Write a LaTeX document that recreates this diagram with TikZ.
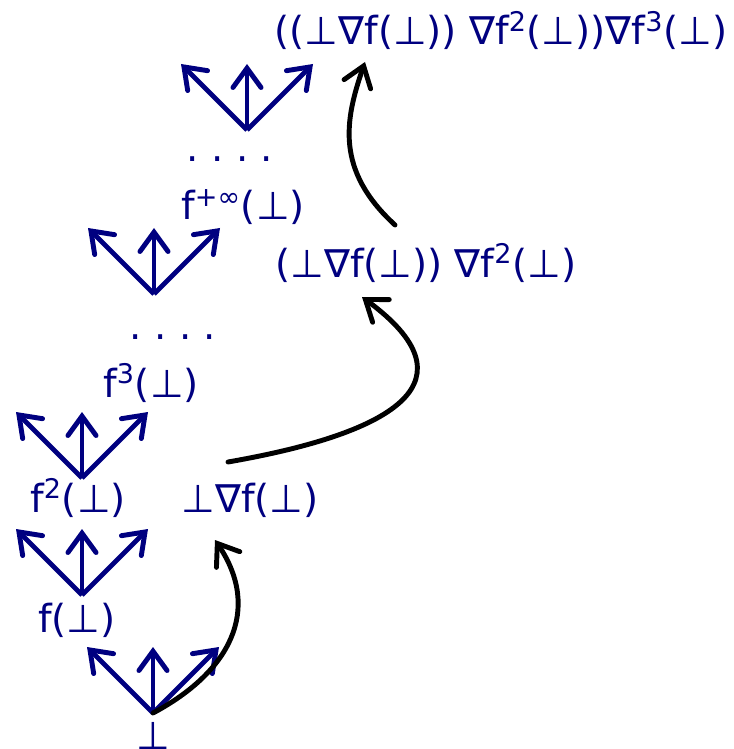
\documentclass[tikz,border=0pt]{standalone}
\usepackage{fontspec}
\setmainfont{DejaVu Sans}
\usetikzlibrary{arrows.meta}
\definecolor{navyink}{RGB}{0,0,128}
\newcommand{\fourdots}{.\hspace{7pt}.\hspace{7pt}.\hspace{7pt}.}

\begin{document}
\begin{tikzpicture}[x=0.02cm,y=-0.02cm,
    lbl/.style={text=navyink,font=\fontsize{22}{26}\selectfont,anchor=base,inner sep=0pt},
    fanarrow/.style={draw=navyink,line width=2.8pt,-{Straight Barb[length=11pt,width=16pt,line cap=round]}},
    iter/.style={draw=black,line width=2.8pt,line cap=round,-{Straight Barb[length=11pt,width=16pt,line cap=round]}}]
  \useasboundingbox (0,0) rectangle (733,749);

  % successors of each element
  \foreach \name/\x/\y in {b0/153/713, b1/82/595, b2/82/478, b3/154/294, b4/247/130} {
    \coordinate (\name) at (\x,\y);
    \draw[fanarrow] (\name) -- ++(-66,-66);
    \draw[fanarrow] (\name) -- ++(0,-66);
    \draw[fanarrow] (\name) -- ++(66,-66);
  }

  % the ascending chain
  \node[lbl] (bot) at (153,749) {⊥};
  \node[lbl] (f1) at (77,632) {f(⊥)};
  \node[lbl] (f2) at (78,512) {f\textsuperscript{2}(⊥)};
  \node[lbl] (f3) at (151,397) {f\textsuperscript{3}(⊥)};
  \node[lbl] (dotsA) at (173,339) {\fourdots};
  \node[lbl] (finf) at (243,220) {f\textsuperscript{+∞}(⊥)};
  \node[lbl] (dotsB) at (230,162) {\fourdots};

  % widening iterates
  \node[lbl] (w1) at (250,512) {⊥∇f(⊥)};
  \node[lbl] (w2) at (426,277) {(⊥∇f(⊥)) ∇f\textsuperscript{2}(⊥)};
  \node[lbl] (w3) at (501,45) {((⊥∇f(⊥)) ∇f\textsuperscript{2}(⊥))∇f\textsuperscript{3}(⊥)};

  \coordinate (tA) at (215,540);
  \coordinate (sB) at (228,462);
  \coordinate (tB) at (362,297);
  \coordinate (sC) at (395,225);
  \coordinate (tC) at (365,62);
  \draw[iter] (b0) .. controls (230,672) and (262,610) .. (tA);
  \draw[iter] (sB) .. controls (400,432) and (475,380) .. (tB);
  \draw[iter] (sC) .. controls (335,170) and (345,120) .. (tC);
\end{tikzpicture}
\end{document}
